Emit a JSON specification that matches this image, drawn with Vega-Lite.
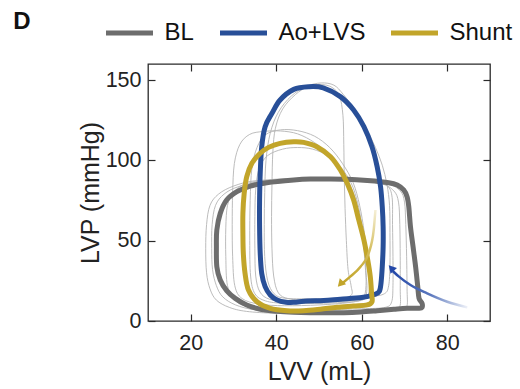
{
  "$schema": "https://vega.github.io/schema/vega-lite/v6.json",
  "width": 342,
  "height": 257,
  "autosize": "none",
  "padding": {"left": 148, "top": 64, "right": 30, "bottom": 68},
  "background": "white",
  "config": {
    "font": "Liberation Sans",
    "view": {"stroke": "#2a2a2a", "strokeWidth": 1.3},
    "axis": {"grid": false, "domain": false, "tickColor": "#2a2a2a", "tickWidth": 1.2, "labelColor": "#222222", "titleColor": "#222222", "titleFontWeight": "normal", "labelFont": "Liberation Sans", "titleFont": "Liberation Sans"}
  },
  "title": {"text": "D", "anchor": "start", "frame": "group", "orient": "top", "fontSize": 24, "fontWeight": "bold", "font": "Liberation Sans", "color": "#111111", "offset": 0, "baseline": "alphabetic", "dx": -134.7, "dy": 46},
  "datasets": {
    "main": [
      {"s":"BL","i":0,"v":26.9,"p":67},{"s":"BL","i":1,"v":28.4,"p":75.3},{"s":"BL","i":2,"v":30.8,"p":80.5},{"s":"BL","i":3,"v":33.9,"p":84},{"s":"BL","i":4,"v":37.8,"p":86.1},{"s":"BL","i":5,"v":44.1,"p":87.8},{"s":"BL","i":6,"v":48,"p":88.4},{"s":"BL","i":7,"v":51.9,"p":88.4},{"s":"BL","i":8,"v":56.6,"p":88.2},{"s":"BL","i":9,"v":61.3,"p":87.4},{"s":"BL","i":10,"v":66.3,"p":86.1},{"s":"BL","i":11,"v":68.3,"p":84.7},{"s":"BL","i":12,"v":69.8,"p":81.6},{"s":"BL","i":13,"v":70.6,"p":77.4},{"s":"BL","i":14,"v":71,"p":71.2},{"s":"BL","i":15,"v":71.4,"p":58.7},{"s":"BL","i":16,"v":72,"p":46.3},{"s":"BL","i":17,"v":72.6,"p":33.8},{"s":"BL","i":18,"v":73.1,"p":21.4},{"s":"BL","i":19,"v":73.4,"p":14.1},{"s":"BL","i":20,"v":74.1,"p":11},{"s":"BL","i":21,"v":74.1,"p":8.5},{"s":"BL","i":22,"v":73.4,"p":7.9},{"s":"BL","i":23,"v":70.6,"p":7.9},{"s":"BL","i":24,"v":67.5,"p":7.3},{"s":"BL","i":25,"v":63.6,"p":6.4},{"s":"BL","i":26,"v":59.7,"p":5.6},{"s":"BL","i":27,"v":55.8,"p":5.2},{"s":"BL","i":28,"v":51.9,"p":5.2},{"s":"BL","i":29,"v":48,"p":5.2},{"s":"BL","i":30,"v":44.1,"p":5.4},{"s":"BL","i":31,"v":40.2,"p":6},{"s":"BL","i":32,"v":36.3,"p":7.3},{"s":"BL","i":33,"v":33.1,"p":10},{"s":"BL","i":34,"v":30.4,"p":14.1},{"s":"BL","i":35,"v":28.4,"p":18.9},{"s":"BL","i":36,"v":26.9,"p":25.5},{"s":"BL","i":37,"v":26.1,"p":33.8},{"s":"BL","i":38,"v":26,"p":46.3},{"s":"BL","i":39,"v":26.1,"p":56.6},
      {"s":"Ao+LVS","i":0,"v":44.1,"p":144.2},{"s":"Ao+LVS","i":1,"v":47.6,"p":145.9},{"s":"Ao+LVS","i":2,"v":51,"p":145.2},{"s":"Ao+LVS","i":3,"v":55,"p":139.7},{"s":"Ao+LVS","i":4,"v":58.1,"p":131.4},{"s":"Ao+LVS","i":5,"v":60.5,"p":121},{"s":"Ao+LVS","i":6,"v":62.4,"p":108.5},{"s":"Ao+LVS","i":7,"v":63.6,"p":96.1},{"s":"Ao+LVS","i":8,"v":64.4,"p":83.6},{"s":"Ao+LVS","i":9,"v":64.8,"p":71.2},{"s":"Ao+LVS","i":10,"v":65,"p":58.7},{"s":"Ao+LVS","i":11,"v":65,"p":46.3},{"s":"Ao+LVS","i":12,"v":64.8,"p":33.8},{"s":"Ao+LVS","i":13,"v":64.5,"p":23.4},{"s":"Ao+LVS","i":14,"v":64.1,"p":18.3},{"s":"Ao+LVS","i":15,"v":63,"p":16.5},{"s":"Ao+LVS","i":16,"v":60,"p":14.6},{"s":"Ao+LVS","i":17,"v":55,"p":13.6},{"s":"Ao+LVS","i":18,"v":51.1,"p":12.8},{"s":"Ao+LVS","i":19,"v":47.2,"p":12.5},{"s":"Ao+LVS","i":20,"v":44.1,"p":11.6},{"s":"Ao+LVS","i":21,"v":42.3,"p":11.7},{"s":"Ao+LVS","i":22,"v":40.2,"p":13.1},{"s":"Ao+LVS","i":23,"v":38.6,"p":16.2},{"s":"Ao+LVS","i":24,"v":37.4,"p":21.4},{"s":"Ao+LVS","i":25,"v":36.6,"p":29.7},{"s":"Ao+LVS","i":26,"v":36.25,"p":42.1},{"s":"Ao+LVS","i":27,"v":36.1,"p":58.7},{"s":"Ao+LVS","i":28,"v":36.1,"p":75.3},{"s":"Ao+LVS","i":29,"v":36.25,"p":91.9},{"s":"Ao+LVS","i":30,"v":36.6,"p":108.5},{"s":"Ao+LVS","i":31,"v":37.4,"p":121},{"s":"Ao+LVS","i":32,"v":39,"p":129.3},{"s":"Ao+LVS","i":33,"v":40.9,"p":137.6},
      {"s":"Shunt","i":0,"v":44.1,"p":111.6},{"s":"Shunt","i":1,"v":46.4,"p":111.2},{"s":"Shunt","i":2,"v":49.5,"p":108.5},{"s":"Shunt","i":3,"v":52.7,"p":102.3},{"s":"Shunt","i":4,"v":55,"p":94},{"s":"Shunt","i":5,"v":56.6,"p":85.7},{"s":"Shunt","i":6,"v":58.1,"p":75.3},{"s":"Shunt","i":7,"v":59.3,"p":62.9},{"s":"Shunt","i":8,"v":60.5,"p":50.4},{"s":"Shunt","i":9,"v":61.4,"p":38},{"s":"Shunt","i":10,"v":62,"p":27.6},{"s":"Shunt","i":11,"v":62.3,"p":17.2},{"s":"Shunt","i":12,"v":62.4,"p":12},{"s":"Shunt","i":13,"v":61.25,"p":10},{"s":"Shunt","i":14,"v":58.1,"p":9.3},{"s":"Shunt","i":15,"v":54.2,"p":8.5},{"s":"Shunt","i":16,"v":50.3,"p":7.3},{"s":"Shunt","i":17,"v":46.4,"p":6.4},{"s":"Shunt","i":18,"v":42.5,"p":6.4},{"s":"Shunt","i":19,"v":38.6,"p":7.9},{"s":"Shunt","i":20,"v":35.5,"p":12},{"s":"Shunt","i":21,"v":33.5,"p":19.3},{"s":"Shunt","i":22,"v":32.7,"p":29.7},{"s":"Shunt","i":23,"v":32.3,"p":42.1},{"s":"Shunt","i":24,"v":32.2,"p":54.6},{"s":"Shunt","i":25,"v":32.2,"p":67},{"s":"Shunt","i":26,"v":32.5,"p":79.5},{"s":"Shunt","i":27,"v":33.1,"p":89.9},{"s":"Shunt","i":28,"v":34.3,"p":98.2},{"s":"Shunt","i":29,"v":36.25,"p":104.4},{"s":"Shunt","i":30,"v":38.2,"p":108.1},{"s":"Shunt","i":31,"v":40.9,"p":110.6}
    ],
    "thin": [
      {"l":"t1","i":0,"v":35,"p":87.3},{"l":"t1","i":1,"v":30,"p":84},{"l":"t1","i":2,"v":26.5,"p":79},{"l":"t1","i":3,"v":24.5,"p":72},{"l":"t1","i":4,"v":23.7,"p":60},{"l":"t1","i":5,"v":23.5,"p":45},{"l":"t1","i":6,"v":23.7,"p":30},{"l":"t1","i":7,"v":24.5,"p":20},{"l":"t1","i":8,"v":26,"p":13},{"l":"t1","i":9,"v":29,"p":8.5},{"l":"t1","i":10,"v":33,"p":6},{"l":"t1","i":11,"v":40,"p":4.8},{"l":"t1","i":12,"v":50,"p":4.6},{"l":"t1","i":13,"v":60,"p":5},{"l":"t1","i":14,"v":66,"p":6.2},{"l":"t1","i":15,"v":69.5,"p":7.2},{"l":"t1","i":16,"v":70.6,"p":9.5},{"l":"t1","i":17,"v":70.6,"p":20},{"l":"t1","i":18,"v":70.5,"p":40},{"l":"t1","i":19,"v":70.3,"p":60},{"l":"t1","i":20,"v":70,"p":74},{"l":"t1","i":21,"v":69,"p":81},{"l":"t1","i":22,"v":66,"p":85.5},{"l":"t1","i":23,"v":60,"p":87},{"l":"t1","i":24,"v":50,"p":87.6},{"l":"t1","i":25,"v":42,"p":87.6},
      {"l":"t2","i":0,"v":36,"p":86.5},{"l":"t2","i":1,"v":31,"p":83.5},{"l":"t2","i":2,"v":27.8,"p":79},{"l":"t2","i":3,"v":25.8,"p":72},{"l":"t2","i":4,"v":25,"p":60},{"l":"t2","i":5,"v":24.9,"p":45},{"l":"t2","i":6,"v":25.1,"p":32},{"l":"t2","i":7,"v":26,"p":22},{"l":"t2","i":8,"v":27.5,"p":15},{"l":"t2","i":9,"v":30.5,"p":10},{"l":"t2","i":10,"v":35,"p":7},{"l":"t2","i":11,"v":42,"p":6},{"l":"t2","i":12,"v":52,"p":5.8},{"l":"t2","i":13,"v":62,"p":6.2},{"l":"t2","i":14,"v":67,"p":7},{"l":"t2","i":15,"v":68.9,"p":9},{"l":"t2","i":16,"v":69,"p":20},{"l":"t2","i":17,"v":69,"p":40},{"l":"t2","i":18,"v":68.9,"p":60},{"l":"t2","i":19,"v":68.6,"p":74},{"l":"t2","i":20,"v":67.5,"p":81},{"l":"t2","i":21,"v":64.5,"p":85.5},{"l":"t2","i":22,"v":58,"p":87.2},{"l":"t2","i":23,"v":48,"p":87.6},{"l":"t2","i":24,"v":41,"p":87.3},
      {"l":"t3","i":0,"v":37,"p":118},{"l":"t3","i":1,"v":41,"p":118.3},{"l":"t3","i":2,"v":45,"p":116.5},{"l":"t3","i":3,"v":49,"p":111},{"l":"t3","i":4,"v":52.5,"p":103},{"l":"t3","i":5,"v":55.5,"p":93},{"l":"t3","i":6,"v":58,"p":80},{"l":"t3","i":7,"v":59.5,"p":65},{"l":"t3","i":8,"v":60.3,"p":50},{"l":"t3","i":9,"v":60.8,"p":35},{"l":"t3","i":10,"v":61,"p":22},{"l":"t3","i":11,"v":60.2,"p":14},{"l":"t3","i":12,"v":57,"p":11.5},{"l":"t3","i":13,"v":50,"p":10},{"l":"t3","i":14,"v":42,"p":9.5},{"l":"t3","i":15,"v":36,"p":10.5},{"l":"t3","i":16,"v":32,"p":14},{"l":"t3","i":17,"v":30.3,"p":22},{"l":"t3","i":18,"v":29.8,"p":40},{"l":"t3","i":19,"v":29.7,"p":60},{"l":"t3","i":20,"v":29.8,"p":80},{"l":"t3","i":21,"v":30.2,"p":98},{"l":"t3","i":22,"v":31.5,"p":110},{"l":"t3","i":23,"v":33.8,"p":116.2},
      {"l":"t4","i":0,"v":41,"p":119},{"l":"t4","i":1,"v":45,"p":118.5},{"l":"t4","i":2,"v":49,"p":115},{"l":"t4","i":3,"v":52.5,"p":108},{"l":"t4","i":4,"v":55.5,"p":98},{"l":"t4","i":5,"v":58,"p":86},{"l":"t4","i":6,"v":59.5,"p":72},{"l":"t4","i":7,"v":60.6,"p":55},{"l":"t4","i":8,"v":61.3,"p":38},{"l":"t4","i":9,"v":61.8,"p":22},{"l":"t4","i":10,"v":61,"p":14.5},{"l":"t4","i":11,"v":58,"p":12},{"l":"t4","i":12,"v":50,"p":11},{"l":"t4","i":13,"v":42,"p":11},{"l":"t4","i":14,"v":37.5,"p":12.5},{"l":"t4","i":15,"v":35,"p":17},{"l":"t4","i":16,"v":34,"p":28},{"l":"t4","i":17,"v":33.8,"p":50},{"l":"t4","i":18,"v":33.9,"p":75},{"l":"t4","i":19,"v":34.3,"p":95},{"l":"t4","i":20,"v":35.5,"p":108},{"l":"t4","i":21,"v":37.5,"p":116},
      {"l":"t5","i":0,"v":50.5,"p":148.2},{"l":"t5","i":1,"v":53.5,"p":146.8},{"l":"t5","i":2,"v":55.7,"p":141},{"l":"t5","i":3,"v":58.5,"p":131},{"l":"t5","i":4,"v":61.2,"p":118.9},{"l":"t5","i":5,"v":63.2,"p":108},{"l":"t5","i":6,"v":64.8,"p":97},{"l":"t5","i":7,"v":65.9,"p":85},{"l":"t5","i":8,"v":66.5,"p":72},{"l":"t5","i":9,"v":66.6,"p":55},{"l":"t5","i":10,"v":66.6,"p":35},{"l":"t5","i":11,"v":66.3,"p":22},{"l":"t5","i":12,"v":65.3,"p":17},{"l":"t5","i":13,"v":62,"p":15.2},{"l":"t5","i":14,"v":55,"p":14.2},{"l":"t5","i":15,"v":48,"p":13.8},{"l":"t5","i":16,"v":42,"p":14.2},{"l":"t5","i":17,"v":39.5,"p":17},{"l":"t5","i":18,"v":38,"p":25},{"l":"t5","i":19,"v":37.3,"p":40},{"l":"t5","i":20,"v":37.2,"p":60},{"l":"t5","i":21,"v":37.3,"p":80},{"l":"t5","i":22,"v":37.6,"p":100},{"l":"t5","i":23,"v":38.6,"p":117},{"l":"t5","i":24,"v":40.5,"p":130},{"l":"t5","i":25,"v":43.5,"p":140},{"l":"t5","i":26,"v":47,"p":146},
      {"l":"t6","i":0,"v":50.5,"p":147.2},{"l":"t6","i":1,"v":53,"p":145.5},{"l":"t6","i":2,"v":54.8,"p":140},{"l":"t6","i":3,"v":55.6,"p":128},{"l":"t6","i":4,"v":55.8,"p":110},{"l":"t6","i":5,"v":55.9,"p":90},{"l":"t6","i":6,"v":56.1,"p":70},{"l":"t6","i":7,"v":56.4,"p":50},{"l":"t6","i":8,"v":56.8,"p":32},{"l":"t6","i":9,"v":57.5,"p":22},{"l":"t6","i":10,"v":57.5,"p":16},{"l":"t6","i":11,"v":54,"p":13.5},{"l":"t6","i":12,"v":48,"p":13},{"l":"t6","i":13,"v":43,"p":13.8},{"l":"t6","i":14,"v":40.5,"p":17.5},{"l":"t6","i":15,"v":39.4,"p":28},{"l":"t6","i":16,"v":39,"p":45},{"l":"t6","i":17,"v":38.9,"p":65},{"l":"t6","i":18,"v":39,"p":85},{"l":"t6","i":19,"v":39.2,"p":105},{"l":"t6","i":20,"v":39.8,"p":120},{"l":"t6","i":21,"v":41.5,"p":132},{"l":"t6","i":22,"v":44.5,"p":141},{"l":"t6","i":23,"v":47.5,"p":146},
      {"l":"t7","i":0,"v":40,"p":88.3},{"l":"t7","i":1,"v":50,"p":88.6},{"l":"t7","i":2,"v":58,"p":88.4},{"l":"t7","i":3,"v":63,"p":87.2},{"l":"t7","i":4,"v":66,"p":84},{"l":"t7","i":5,"v":67.1,"p":77},{"l":"t7","i":6,"v":67.2,"p":60},{"l":"t7","i":7,"v":67.3,"p":40},{"l":"t7","i":8,"v":67.3,"p":22},{"l":"t7","i":9,"v":67,"p":12},{"l":"t7","i":10,"v":65.5,"p":8.5},{"l":"t7","i":11,"v":60,"p":7.6},{"l":"t7","i":12,"v":50,"p":7},{"l":"t7","i":13,"v":40,"p":7},{"l":"t7","i":14,"v":34,"p":8.5},{"l":"t7","i":15,"v":30.5,"p":12.5},{"l":"t7","i":16,"v":28.6,"p":22},{"l":"t7","i":17,"v":28.2,"p":40},{"l":"t7","i":18,"v":28.2,"p":58},{"l":"t7","i":19,"v":28.6,"p":72},{"l":"t7","i":20,"v":30,"p":80},{"l":"t7","i":21,"v":33,"p":85.5},
      {"l":"t8","i":0,"v":45,"p":108},{"l":"t8","i":1,"v":48.5,"p":107},{"l":"t8","i":2,"v":52,"p":103},{"l":"t8","i":3,"v":55,"p":96},{"l":"t8","i":4,"v":57.5,"p":86},{"l":"t8","i":5,"v":59,"p":74},{"l":"t8","i":6,"v":60,"p":60},{"l":"t8","i":7,"v":60.6,"p":45},{"l":"t8","i":8,"v":61,"p":30},{"l":"t8","i":9,"v":61.2,"p":20},{"l":"t8","i":10,"v":60.5,"p":14.5},{"l":"t8","i":11,"v":57,"p":12.5},{"l":"t8","i":12,"v":50,"p":12},{"l":"t8","i":13,"v":43,"p":12},{"l":"t8","i":14,"v":38.5,"p":13.5},{"l":"t8","i":15,"v":36.2,"p":18},{"l":"t8","i":16,"v":35.2,"p":28},{"l":"t8","i":17,"v":35,"p":45},{"l":"t8","i":18,"v":35,"p":65},{"l":"t8","i":19,"v":35.2,"p":82},{"l":"t8","i":20,"v":36,"p":95},{"l":"t8","i":21,"v":38,"p":103},{"l":"t8","i":22,"v":41.5,"p":107}
    ],
    "arrows": [
      {"a":"gold","i":0,"v":63.2,"p":69.1},{"a":"gold","i":1,"v":62.8,"p":56.7},{"a":"gold","i":2,"v":61.6,"p":42.1},{"a":"gold","i":3,"v":59.7,"p":33.8},{"a":"gold","i":4,"v":57.3,"p":27.6},{"a":"gold","i":5,"v":55.6,"p":23.8},
      {"a":"blue","i":0,"v":84.7,"p":8.5},{"a":"blue","i":1,"v":80,"p":12},{"a":"blue","i":2,"v":75.3,"p":17.2},{"a":"blue","i":3,"v":71.4,"p":22.4},{"a":"blue","i":4,"v":68.7,"p":27.6},{"a":"blue","i":5,"v":67.3,"p":31}
    ],
    "tips": [
      {"a":"gold","v":55.0,"p":23.0},
      {"a":"blue","v":66.9,"p":32.9}
    ]
  },
  "layer": [
    {
      "data": {"name": "thin"},
      "mark": {"type": "line", "interpolate": "cardinal-closed", "stroke": "#b4b4b4", "strokeWidth": 0.9},
      "encoding": {
        "x": {"field": "v", "type": "quantitative", "scale": {"domain": [10, 90], "nice": false, "zero": false},
              "axis": {"orient": "bottom", "values": [20, 40, 60, 80], "tickSize": -7, "labelPadding": 18.5, "labelFontSize": 21.5, "title": "LVV (mL)", "titleFontSize": 25, "titlePadding": 5}},
        "y": {"field": "p", "type": "quantitative", "scale": {"domain": [0, 160], "nice": false, "zero": false},
              "axis": {"orient": "left", "values": [0, 50, 100, 150], "tickSize": -7, "labelPadding": 14, "labelFontSize": 21.5, "title": "LVP (mmHg)", "titleFontSize": 25, "titlePadding": 2}},
        "detail": {"field": "l", "type": "nominal"},
        "order": {"field": "i", "type": "quantitative"}
      }
    },
    {
      "data": {"name": "main"},
      "transform": [{"filter": "datum.s === 'BL'"}],
      "mark": {"type": "line", "interpolate": "cardinal-closed", "strokeWidth": 5},
      "encoding": {
        "x": {"field": "v", "type": "quantitative", "axis": {"orient": "top", "values": [20, 40, 60, 80], "tickSize": -7, "labels": false, "title": null}},
        "y": {"field": "p", "type": "quantitative", "axis": {"orient": "right", "values": [0, 50, 100, 150], "tickSize": -7, "labels": false, "title": null}},
        "color": {"field": "s", "type": "nominal",
                  "scale": {"domain": ["BL", "Ao+LVS", "Shunt"], "range": ["#6d6d6d", "#284f98", "#c2a52a"]},
                  "legend": {"orient": "none", "legendX": -44.5, "legendY": -57, "direction": "horizontal", "title": null, "symbolType": "stroke", "symbolSize": 2209, "symbolStrokeWidth": 5, "labelFontSize": 24, "labelFont": "Liberation Sans", "labelColor": "#111111", "labelOffset": 9, "columnPadding": 15, "padding": 0, "labelLimit": 300}},
        "order": {"field": "i", "type": "quantitative"}
      }
    },
    {
      "data": {"name": "main"},
      "transform": [{"filter": "datum.s === 'Ao+LVS'"}],
      "mark": {"type": "line", "interpolate": "cardinal-closed", "strokeWidth": 5},
      "encoding": {
        "x": {"field": "v", "type": "quantitative", "axis": null},
        "y": {"field": "p", "type": "quantitative", "axis": null},
        "color": {"field": "s", "type": "nominal"},
        "order": {"field": "i", "type": "quantitative"}
      }
    },
    {
      "data": {"name": "main"},
      "transform": [{"filter": "datum.s === 'Shunt'"}],
      "mark": {"type": "line", "interpolate": "cardinal-closed", "strokeWidth": 5},
      "encoding": {
        "x": {"field": "v", "type": "quantitative", "axis": null},
        "y": {"field": "p", "type": "quantitative", "axis": null},
        "color": {"field": "s", "type": "nominal"},
        "order": {"field": "i", "type": "quantitative"}
      }
    },
    {
      "data": {"name": "arrows"},
      "transform": [{"filter": "datum.a === 'gold'"}],
      "mark": {"type": "line", "interpolate": "monotone", "strokeWidth": 2.5,
               "stroke": {"gradient": "linear", "x1": 0, "y1": 0, "x2": 0, "y2": 1, "stops": [{"offset": 0, "color": "#f5efd6"}, {"offset": 0.6, "color": "#d2ba55"}, {"offset": 1, "color": "#c2a52a"}]}},
      "encoding": {
        "x": {"field": "v", "type": "quantitative", "axis": null},
        "y": {"field": "p", "type": "quantitative", "axis": null},
        "order": {"field": "i", "type": "quantitative"}
      }
    },
    {
      "data": {"name": "arrows"},
      "transform": [{"filter": "datum.a === 'blue'"}],
      "mark": {"type": "line", "interpolate": "monotone", "strokeWidth": 2.5,
               "stroke": {"gradient": "linear", "x1": 1, "y1": 0, "x2": 0, "y2": 0, "stops": [{"offset": 0, "color": "#eef1f8"}, {"offset": 0.5, "color": "#5a77bd"}, {"offset": 1, "color": "#2448a8"}]}},
      "encoding": {
        "x": {"field": "v", "type": "quantitative", "axis": null},
        "y": {"field": "p", "type": "quantitative", "axis": null},
        "order": {"field": "i", "type": "quantitative"}
      }
    },
    {
      "data": {"name": "tips"},
      "transform": [{"filter": "datum.a === 'gold'"}],
      "mark": {"type": "point", "shape": "triangle-up", "filled": true, "size": 75, "color": "#c2a52a", "opacity": 1, "angle": 223},
      "encoding": {
        "x": {"field": "v", "type": "quantitative", "axis": null},
        "y": {"field": "p", "type": "quantitative", "axis": null}
      }
    },
    {
      "data": {"name": "tips"},
      "transform": [{"filter": "datum.a === 'blue'"}],
      "mark": {"type": "point", "shape": "triangle-up", "filled": true, "size": 75, "color": "#2448a8", "opacity": 1, "angle": 318},
      "encoding": {
        "x": {"field": "v", "type": "quantitative", "axis": null},
        "y": {"field": "p", "type": "quantitative", "axis": null}
      }
    }
  ]
}
